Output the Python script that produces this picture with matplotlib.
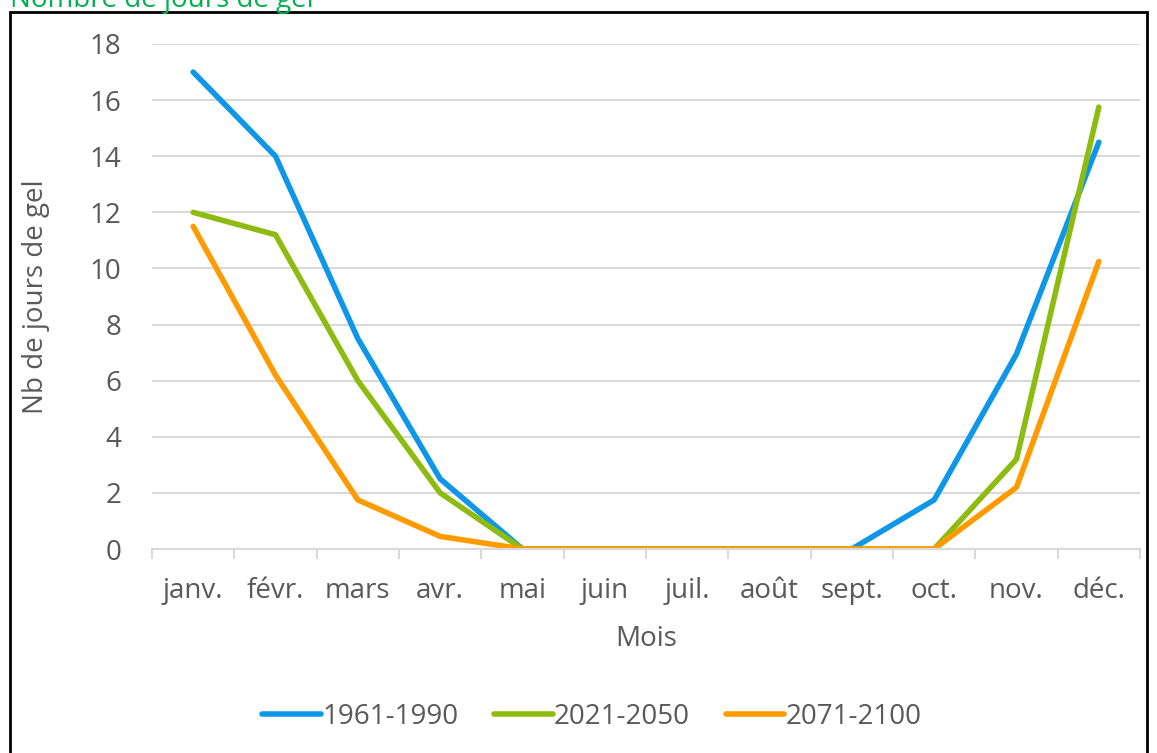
"""
    Nombre de jours de gel par mois, trois periodes
"""
import numpy as np
import matplotlib.pyplot as plt
from matplotlib.patches import Rectangle

mois = ["janv.", "févr.", "mars", "avr.", "mai", "juin", "juil.", "août",
        "sept.", "oct.", "nov.", "déc."]
periodes = ["1961-1990", "2021-2050", "2071-2100"]
gel_1961_1990 = [17, 14, 7.5, 2.5, 0, 0, 0, 0, 0, 1.75, 6.95, 14.5]
gel_2021_2050 = [12, 11.2, 6, 2, 0, 0, 0, 0, 0, 0, 3.2, 15.75]
gel_2071_2100 = [11.5, 6.2, 1.75, 0.45, 0, 0, 0, 0, 0, 0, 2.2, 10.25]
couleurs = ["#0E96E8", "#8DBB0F", "#FF9B00"]

plt.rcParams['font.family'] = ['Open Sans', 'DejaVu Sans']
gris = "#595959"
taille = 20

fig = plt.figure(figsize=(11.57, 7.53), dpi=100)
ax = fig.add_axes([152/1157, 1 - 549/753, 988/1157, 505/753])

x = np.arange(len(mois))
for serie, nom, c in zip([gel_1961_1990, gel_2021_2050, gel_2071_2100], periodes, couleurs):
    ax.plot(x, serie, color=c, lw=4, label=nom, solid_capstyle='round', solid_joinstyle='round')

ax.set_xlim(-0.5, len(mois) - 0.5)
ax.set_ylim(0, 18)
ax.set_yticks(np.arange(0, 19, 2))
ax.set_xticks(x)
ax.set_xticklabels(mois)
ax.set_xticks(np.arange(-0.5, len(mois), 1), minor=True)
ax.tick_params(axis='y', length=0, pad=22, labelsize=taille, labelcolor=gris)
ax.tick_params(axis='x', which='major', length=0, pad=20, labelsize=taille, labelcolor=gris)
ax.tick_params(axis='x', which='minor', length=7, width=1.5, color="#d9d9d9", direction='out')

#grid and spines
ax.grid(axis='y', color="#d9d9d9", lw=1.5)
ax.set_axisbelow(True)
for s in ['top', 'right', 'left']:
    ax.spines[s].set_visible(False)
ax.spines['bottom'].set_color("#d9d9d9")
ax.spines['bottom'].set_linewidth(1.5)

ax.set_xlabel("Mois", fontsize=taille, color=gris)
ax.xaxis.set_label_coords(0.5, -0.15)
ax.set_ylabel("Nb de jours de gel", fontsize=taille, color=gris)
ax.yaxis.set_label_coords(-0.103, 0.5)

ax.legend(loc='center', bbox_to_anchor=(592/1157, 1 - 717/753), bbox_transform=fig.transFigure,
          ncol=3, frameon=False, fontsize=taille, labelcolor=gris, handlelength=2.1,
          handletextpad=0.05, columnspacing=1.3)

#frame and cut title
fig.patches.append(Rectangle((10/1157, -0.05), 1137/1157, 1.05 - 12/753, transform=fig.transFigure,
                             fill=False, edgecolor='black', lw=2))
fig.text(10/1157, 1 - 7/753, "Nombre de jours de gel", color="#00B050", fontsize=taille,
         ha='left', va='baseline')

plt.savefig("out.png", dpi=100)
